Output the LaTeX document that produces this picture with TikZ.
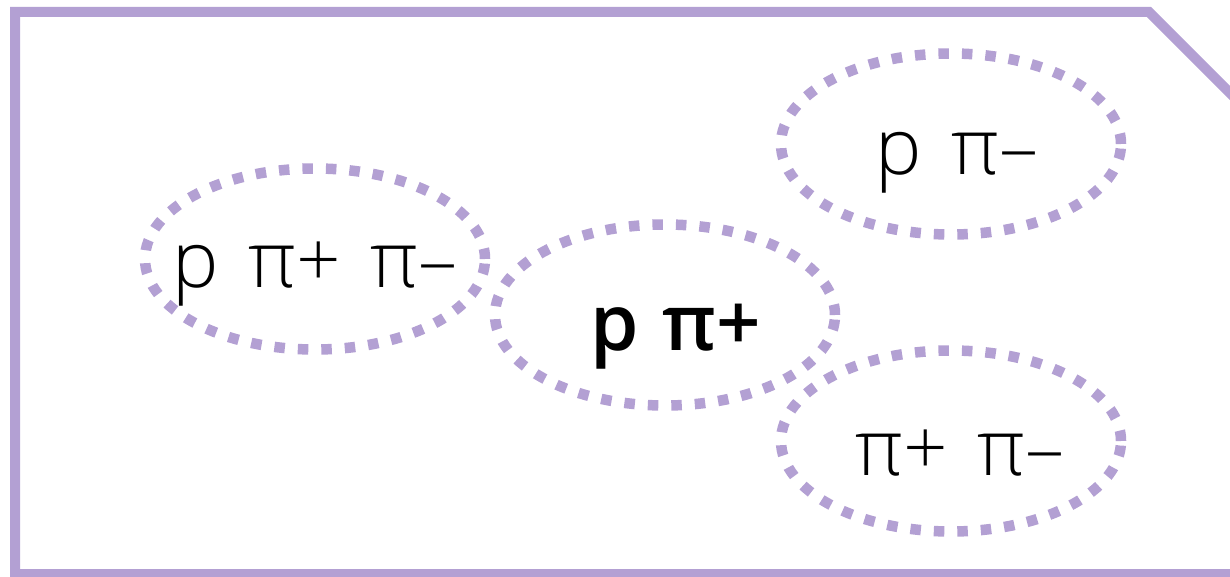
\documentclass[tikz,border=0pt]{standalone}
\usepackage{fontspec}
\setmainfont{Open Sans}[UprightFont=* Light, BoldFont=* Bold]
\IfFontExistsTF{Open Sans Semibold}{\newfontfamily\semib{Open Sans Semibold}}{\newfontfamily\semib{Open Sans}[UprightFont=* Bold]}
\usetikzlibrary{shapes.geometric}
\definecolor{lav}{RGB}{179,160,211}
\newcommand\lblfont{\fontsize{78}{90}\selectfont\spaceskip=0.38em\relax}
\newcommand\lblboldfont{\semib\fontsize{78}{90}\selectfont\spaceskip=0.3em\relax}
\tikzset{
  frameline/.style={draw=lav, line width=10pt, line join=miter},
  group/.style={ellipse, draw=lav, line width=10.5pt, dash pattern=on 10.5pt off 13pt, minimum width=340pt, minimum height=181pt, inner sep=0pt},
  label/.style={anchor=base, inner sep=0pt, font=\lblfont},
}
\begin{document}
\begin{tikzpicture}[x=1pt,y=-1pt]
\clip (0,0) rectangle (1230,577);
\coordinate (f1) at (15,12);
\coordinate (f2) at (1149,12);
\coordinate (f3) at (1260,123);
\coordinate (f4) at (1260,574);
\coordinate (f5) at (15,574);
\draw[frameline] (f1) -- (f2) -- (f3) -- (f4) -- (f5) -- cycle;
\node[group] (e1) at (315,259) {};
\node[group] (e2) at (665,315) {};
\node[group] (e3) at (951,144) {};
\node[group] (e4) at (951,441) {};
\node[label] (t1) at (315,287) {p π+ π–};
\node[label, font=\lblboldfont] (t2) at (676,350) {p π+};
\node[label] (t3) at (957,175) {p π–};
\node[label] (t4) at (960,475) {π+ π–};
\end{tikzpicture}
\end{document}
